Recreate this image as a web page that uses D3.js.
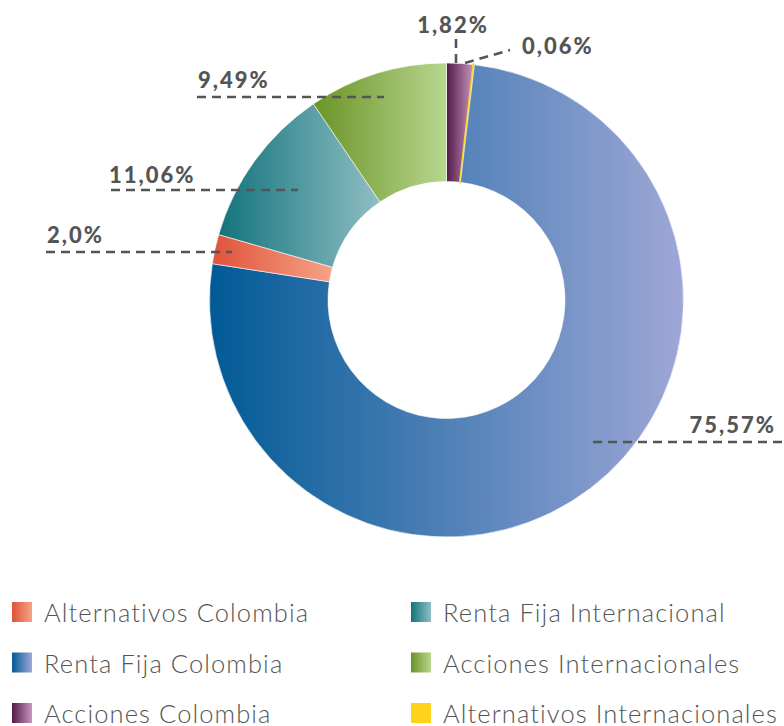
<!DOCTYPE html>
<html>
<head>
<meta charset="utf-8">
<title>Composición del portafolio</title>
<script src="https://d3js.org/d3.v7.min.js"></script>
<style>
  html, body { margin: 0; padding: 0; background: #fff; }
  svg { display: block; }
</style>
</head>
<body>
<div id="chart"></div>
<script>
// data, in clockwise order starting at 12 o'clock
var categories = ["Acciones Colombia", "Alternativos Internacionales", "Renta Fija Colombia",
                  "Alternativos Colombia", "Renta Fija Internacional", "Acciones Internacionales"];
var values = [1.82, 0.06, 75.57, 2.0, 11.06, 9.49];
var labels = ["1,82%", "0,06%", "75,57%", "2,0%", "11,06%", "9,49%"];
// legend order (two columns, row by row)
var legendOrder = ["Alternativos Colombia", "Renta Fija Internacional",
                   "Renta Fija Colombia", "Acciones Internacionales",
                   "Acciones Colombia", "Alternativos Internacionales"];

// gradient colours: dark (left) -> light (right)
var colors = {
  "Acciones Colombia":            ["#521a48", "#c896c1"],
  "Alternativos Internacionales": ["#ffd21c", "#ffd21c"],
  "Renta Fija Colombia":          ["#005a96", "#9fa7d7"],
  "Alternativos Colombia":        ["#df523b", "#f5a386"],
  "Renta Fija Internacional":     ["#13737c", "#8fbec4"],
  "Acciones Internacionales":     ["#6a9426", "#b8d68f"]
};

// label layout: text anchor point + dashed leader line
var labelLayout = {
  "Acciones Colombia":            { tx: 453, ty: 33, anchor: "middle", line: [[456, 39], [456, 64]] },
  "Alternativos Internacionales": { tx: 522, ty: 54, anchor: "start",  line: [[465, 63], [510, 50]] },
  "Renta Fija Colombia":          { tx: 776, ty: 433, anchor: "end",   line: [[593, 442], [784, 442]] },
  "Alternativos Colombia":        { tx: 47,  ty: 243, anchor: "start", line: [[46, 252], [232, 252]] },
  "Renta Fija Internacional":     { tx: 109, ty: 183, anchor: "start", line: [[111, 190], [298, 190]] },
  "Acciones Internacionales":     { tx: 198, ty: 88,  anchor: "start", line: [[197, 97], [384, 97]] }
};

var width = 784, height = 726;
var cx = 446.5, cy = 300, outerR = 237, innerR = 118.5;

var svg = d3.select("#chart").append("svg")
    .attr("width", width)
    .attr("height", height);

var defs = svg.append("defs");
var gradId = function (name) { return "grad-" + categories.indexOf(name); };
categories.forEach(function (c) {
  var g = defs.append("linearGradient")
      .attr("id", gradId(c))
      .attr("x1", 0).attr("y1", 0).attr("x2", 1).attr("y2", 0);
  g.append("stop").attr("offset", "0%").attr("stop-color", colors[c][0]);
  g.append("stop").attr("offset", "100%").attr("stop-color", colors[c][1]);
});

var data = categories.map(function (c, i) {
  return { name: c, value: values[i], label: labels[i] };
});

var pie = d3.pie().sort(null).value(function (d) { return d.value; });
var arc = d3.arc().innerRadius(innerR).outerRadius(outerR);

var g = svg.append("g").attr("transform", "translate(" + cx + "," + cy + ")");
g.selectAll("path.slice")
  .data(pie(data))
  .enter().append("path")
  .attr("class", "slice")
  .attr("d", arc)
  .attr("fill", function (d) { return "url(#" + gradId(d.data.name) + ")"; })
  // the tiny slice gets an outline in its own colour so it stays visible
  .attr("stroke", function (d) { return d.value < 0.5 ? colors[d.data.name][0] : "#fff"; })
  .attr("stroke-width", function (d) { return d.value < 0.5 ? 2.2 : 0.6; });

// leader lines and labels
var ann = svg.append("g");
data.forEach(function (d) {
  var L = labelLayout[d.name];
  ann.append("line")
    .attr("x1", L.line[0][0]).attr("y1", L.line[0][1])
    .attr("x2", L.line[1][0]).attr("y2", L.line[1][1])
    .attr("stroke", "#555")
    .attr("stroke-width", 2.6)
    .attr("stroke-dasharray", "9,6");
  ann.append("text")
    .attr("x", L.tx).attr("y", L.ty)
    .attr("text-anchor", L.anchor)
    .style("font-family", "Lato, 'Open Sans', sans-serif")
    .style("font-weight", 900)
    .style("font-size", "22px")
    .style("letter-spacing", "2px")
    .style("fill", "#555")
    .text(d.label);
});

// legend
var legend = svg.append("g");
legendOrder.forEach(function (name, i) {
  var col = i % 2, row = Math.floor(i / 2);
  var x0 = col === 0 ? 12 : 411;
  var yc = 612 + row * 50.5;
  var item = legend.append("g");
  item.append("rect")
    .attr("x", x0).attr("y", yc - 10)
    .attr("width", 20).attr("height", 20)
    .attr("fill", "url(#" + gradId(name) + ")");
  item.append("text")
    .attr("x", x0 + 32).attr("y", yc + 10)
    .style("font-family", "Lato, 'Open Sans', sans-serif")
    .style("font-weight", 300)
    .style("font-size", "25.5px")
    .style("letter-spacing", "1.1px")
    .style("fill", "#555")
    .text(name);
});
</script>
</body>
</html>
